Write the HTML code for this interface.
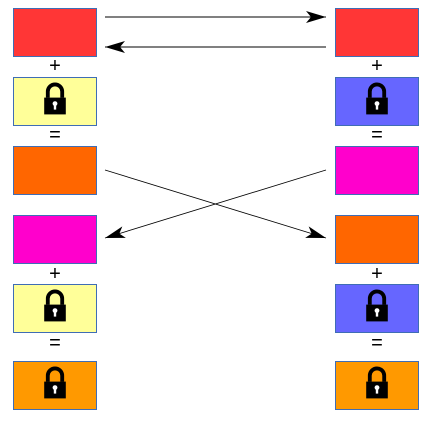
<!DOCTYPE html>
<html><head><meta charset="utf-8"><style>
body{margin:0;width:434px;height:428px;background:#fff;position:relative;overflow:hidden;font-family:"Liberation Sans",sans-serif}
.b{position:absolute;width:84px;height:49px;border:1px solid #3f6db5;box-sizing:border-box}
.t{position:absolute;width:84px;text-align:center;font-size:20px;line-height:18px;color:#000}
svg{position:absolute;left:0;top:0}
</style></head><body>
<div class="b" style="left:13px;top:8px;background:#ff3636"></div>
<div class="t" style="left:13px;top:57px">+</div>
<div class="b" style="left:13px;top:77px;background:#ffff99"></div>
<div class="t" style="left:13px;top:126px">=</div>
<div class="b" style="left:13px;top:146px;background:#ff6600"></div>
<div class="b" style="left:13px;top:215px;background:#ff00cc"></div>
<div class="t" style="left:13px;top:265px">+</div>
<div class="b" style="left:13px;top:284px;background:#ffff99"></div>
<div class="t" style="left:13px;top:334px">=</div>
<div class="b" style="left:13px;top:361px;background:#ff9900"></div>

<div class="b" style="left:335px;top:8px;background:#ff3636"></div>
<div class="t" style="left:335px;top:57px">+</div>
<div class="b" style="left:335px;top:77px;background:#6666ff"></div>
<div class="t" style="left:335px;top:126px">=</div>
<div class="b" style="left:335px;top:146px;background:#ff00cc"></div>
<div class="b" style="left:335px;top:215px;background:#ff6600"></div>
<div class="t" style="left:335px;top:265px">+</div>
<div class="b" style="left:335px;top:284px;background:#6666ff"></div>
<div class="t" style="left:335px;top:334px">=</div>
<div class="b" style="left:335px;top:361px;background:#ff9900"></div>

<svg width="434" height="428">
<defs>
<marker id="a2" markerWidth="20" markerHeight="12" refX="20" refY="6" orient="auto" markerUnits="userSpaceOnUse"><path d="M0,0L20,6L0,12L5,6Z" fill="#000"/></marker>
<g id="lk"><path d="M-6,-2V-7A6,6 0 0 1 6,-7V-2" fill="none" stroke="#000" stroke-width="3.2"/><rect x="-9" y="-2" width="18" height="14" fill="#000"/><circle cx="0" cy="3" r="2" fill="#fff"/><rect x="-1" y="3" width="2" height="5" fill="#fff"/></g>
</defs>
<line x1="105" y1="17" x2="326" y2="17" stroke="#000" stroke-width="1" marker-end="url(#a2)"/>
<line x1="326" y1="47" x2="105" y2="47" stroke="#000" stroke-width="1" marker-end="url(#a2)"/>
<line x1="105" y1="170" x2="326" y2="238" stroke="#000" stroke-width="0.8" marker-end="url(#a2)"/>
<line x1="326" y1="170" x2="105" y2="238" stroke="#000" stroke-width="0.8" marker-end="url(#a2)"/>
<g transform="translate(55,100) scale(1.2)"><use href="#lk"/></g>
<g transform="translate(377,100) scale(1.2)"><use href="#lk"/></g>
<g transform="translate(55,307) scale(1.2)"><use href="#lk"/></g>
<g transform="translate(377,307) scale(1.2)"><use href="#lk"/></g>
<g transform="translate(55,384) scale(1.2)"><use href="#lk"/></g>
<g transform="translate(377,384) scale(1.2)"><use href="#lk"/></g>
</svg>
</body></html>
